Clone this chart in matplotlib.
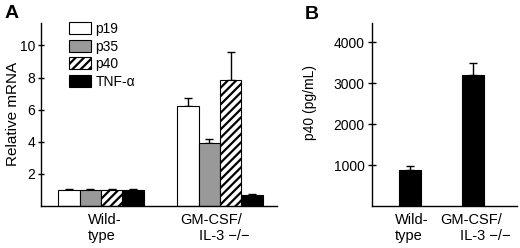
import matplotlib
matplotlib.use("Agg")
import matplotlib.pyplot as plt
import numpy as np

plt.rcParams['font.family'] = ['Liberation Sans', 'DejaVu Sans']
plt.rcParams['hatch.linewidth'] = 1.6

# ---- data ----
series = ["p19", "p35", "p40", "TNF-\u03b1"]
groups_A = [["Wild-", "type"], ["GM-CSF/", "IL-3 \u2212/\u2212"]]
vals_wt = [1.0, 1.0, 1.0, 1.0]
err_wt = [0.07, 0.07, 0.07, 0.07]
vals_ko = [6.25, 3.92, 7.87, 0.69]
err_ko = [0.48, 0.25, 1.73, 0.06]
yticks_A = [2, 4, 6, 8, 10]

groups_B = [["Wild-", "type"], ["GM-CSF/", "IL-3 \u2212/\u2212"]]
vals_B = [870, 3190]
err_B = [105, 300]
yticks_B = [1000, 2000, 3000, 4000]

W, H = 520, 248
fig = plt.figure(figsize=(W/100, H/100), dpi=100)

def fx(px): return px / W
def fy(py): return 1 - py / H

# ---- Panel A ----
axA = fig.add_axes([fx(41), fy(206), fx(277) - fx(41), fy(23) - fy(206)])
w = 0.18
offsets = np.array([-1.5, -0.5, 0.5, 1.5]) * w
styles = [dict(color='white', hatch=None),
          dict(color='#999999', hatch=None),
          dict(color='white', hatch='////'),
          dict(color='black', hatch=None)]
handles = []
for i, s in enumerate(series):
    xs = np.array([0, 1]) + offsets[i]
    ys = [vals_wt[i], vals_ko[i]]
    es = [err_wt[i], err_ko[i]]
    axA.errorbar(xs, ys, yerr=[[0, 0], es], fmt='none', ecolor='black',
                 elinewidth=1.0, capsize=3, capthick=1.0, zorder=1)
    b = axA.bar(xs, ys, width=w, facecolor=styles[i]['color'], edgecolor='black',
                linewidth=0.8, hatch=styles[i]['hatch'], zorder=2, label=s)
    handles.append(b)
axA.set_xlim(-0.504, 1.479)
axA.set_ylim(0, 11.4)
axA.set_yticks(yticks_A)
axA.set_xticks([])
axA.tick_params(axis='y', direction='inout', length=5, width=1, labelsize=10, pad=1.5)
for sp in ['top', 'right']:
    axA.spines[sp].set_visible(False)
for sp in ['left', 'bottom']:
    axA.spines[sp].set_linewidth(1.0)

trA = axA.get_xaxis_transform()
# label positions (data x, axes y)
axA.text(-0.109, -0.04, groups_A[0][0], transform=trA, ha='left', va='top', fontsize=10.5)
axA.text(-0.109, -0.125, groups_A[0][1], transform=trA, ha='left', va='top', fontsize=10.5)
axA.text(0.664, -0.04, groups_A[1][0], transform=trA, ha='left', va='top', fontsize=10.5)
axA.text(0.824, -0.125, groups_A[1][1], transform=trA, ha='left', va='top', fontsize=10.5)

leg = axA.legend(handles=handles, labels=series, loc='upper left',
                 bbox_to_anchor=(fx(69), fy(22)), bbox_transform=fig.transFigure,
                 frameon=False, fontsize=10, handlelength=1.6, handleheight=0.95,
                 handletextpad=0.3, labelspacing=0.26, borderpad=0, borderaxespad=0)

fig.text(fx(13.5), fy(113.5), "Relative mRNA", rotation=90, ha='center', va='center', fontsize=11)
fig.text(fx(5), fy(5), "A", ha='left', va='top', fontsize=14, fontweight='bold')

# ---- Panel B ----
axB = fig.add_axes([fx(371.7), fy(206), fx(517) - fx(371.7), fy(23) - fy(206)])
wb = 0.346
xb = np.array([0, 1])
axB.errorbar(xb, vals_B, yerr=[[0, 0], err_B], fmt='none', ecolor='black',
             elinewidth=1.0, capsize=3, capthick=1.0, zorder=1)
axB.bar(xb, vals_B, width=wb, color='black', edgecolor='black', linewidth=0.8, zorder=2)
axB.set_xlim(-0.597, 1.687)
axB.set_ylim(0, 4470)
axB.set_yticks(yticks_B)
axB.set_xticks([])
axB.tick_params(axis='y', direction='inout', length=6, width=1, labelsize=10, pad=2)
for sp in ['top', 'right']:
    axB.spines[sp].set_visible(False)
for sp in ['left', 'bottom']:
    axB.spines[sp].set_linewidth(1.0)

trB = axB.get_xaxis_transform()
axB.text(-0.231, -0.04, groups_B[0][0], transform=trB, ha='left', va='top', fontsize=10.5)
axB.text(-0.231, -0.125, groups_B[0][1], transform=trB, ha='left', va='top', fontsize=10.5)
axB.text(0.487, -0.04, groups_B[1][0], transform=trB, ha='left', va='top', fontsize=10.5)
axB.text(0.79, -0.125, groups_B[1][1], transform=trB, ha='left', va='top', fontsize=10.5)

fig.text(fx(310), fy(102.5), "p40 (pg/mL)", rotation=90, ha='center', va='center', fontsize=10)
fig.text(fx(305), fy(6), "B", ha='left', va='top', fontsize=14, fontweight='bold')

fig.savefig("out.png", dpi=100)
